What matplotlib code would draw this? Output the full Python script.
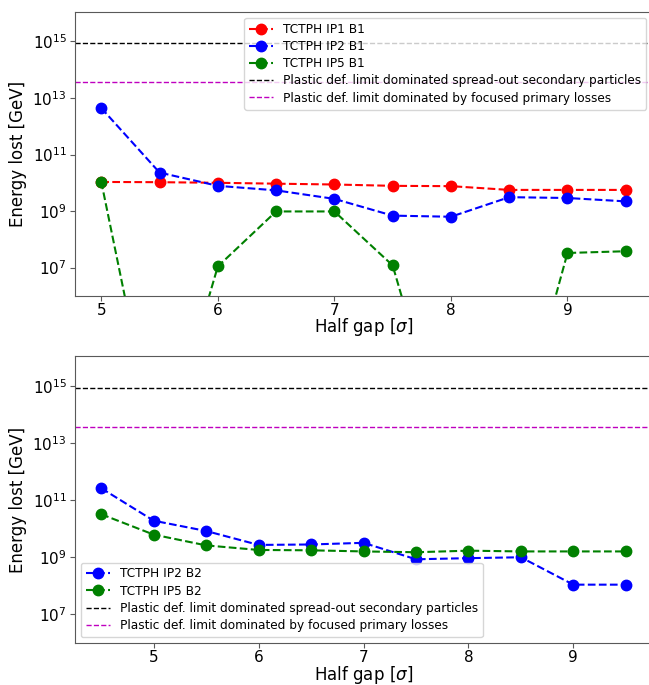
import numpy as np
import matplotlib
matplotlib.use("Agg")
import matplotlib.pyplot as plt

# Half-gap settings (in sigma)
gap_b1 = [5.0, 5.5, 6.0, 6.5, 7.0, 7.5, 8.0, 8.5, 9.0, 9.5]
gap_b2 = [4.5, 5.0, 5.5, 6.0, 6.5, 7.0, 7.5, 8.0, 8.5, 9.0, 9.5]

# Energy deposited on the TCTPH collimators [GeV]
ip1_b1 = [1.07e10, 1.05e10, 1.0e10, 9.3e9, 8.7e9, 7.8e9, 7.6e9, 5.6e9, 5.6e9, 5.6e9]
ip2_b1 = [4.4e12, 2.3e10, 7.8e9, 5.4e9, 2.7e9, 6.9e8, 6.3e8, 3.1e9, 2.9e9, 2.2e9]
ip5_b1 = [1.1e10, 1.0, 1.1e7, 9.7e8, 9.7e8, 1.2e7, 1.0, 1.0, 3.3e7, 3.8e7]

ip2_b2 = [2.6e11, 1.9e10, 8.3e9, 2.7e9, 2.8e9, 3.2e9, 8.5e8, 9.3e8, 1.0e9, 1.1e8, 1.1e8]
ip5_b2 = [3.2e10, 6.2e9, 2.6e9, 1.8e9, 1.75e9, 1.6e9, 1.5e9, 1.7e9, 1.6e9, 1.6e9, 1.6e9]

# Plastic deformation limits [GeV]
limit_secondary = 8.5e14
limit_primary = 3.7e13

TICK_FS = 11
LABEL_FS = 12
LEG_FS = 8.7
MS = 7.5

fig = plt.figure(figsize=(6.49, 6.85), dpi=100)
ax1 = fig.add_axes([0.1156, 0.568, 0.889, 0.4146])
ax2 = fig.add_axes([0.1156, 0.0613, 0.889, 0.419])


def style_axis(ax):
    ax.set_yscale("log")
    ax.set_ylim(1e6, 1.1e16)
    ax.set_yticks([1e7, 1e9, 1e11, 1e13, 1e15])
    ax.yaxis.set_minor_locator(matplotlib.ticker.NullLocator())
    ax.tick_params(labelsize=TICK_FS, color="0.35", pad=2.5)
    ax.tick_params(axis="x", pad=1.5)
    for s in ax.spines.values():
        s.set_color("0.35")
    ax.set_xlabel(r"Half gap [$\sigma$]", fontsize=LABEL_FS, labelpad=-1)
    ax.set_ylabel("Energy lost [GeV]", fontsize=LABEL_FS)


# Beam 1
ax1.plot(gap_b1, ip1_b1, "o--", color="red", ms=MS, label="TCTPH IP1 B1")
ax1.plot(gap_b1, ip2_b1, "o--", color="blue", ms=MS, label="TCTPH IP2 B1")
ax1.plot(gap_b1, ip5_b1, "o--", color="green", ms=MS, label="TCTPH IP5 B1")
ax1.axhline(limit_secondary, color="black", ls="--", lw=1.0,
            label="Plastic def. limit dominated spread-out secondary particles")
ax1.axhline(limit_primary, color="m", ls="--", lw=1.0,
            label="Plastic def. limit dominated by focused primary losses")
style_axis(ax1)
ax1.set_xlim(4.775, 9.725)
ax1.set_xticks([5, 6, 7, 8, 9])
ax1.legend(loc="upper right", fontsize=LEG_FS, labelspacing=0.35)

# Beam 2
ax2.plot(gap_b2, ip2_b2, "o--", color="blue", ms=MS, label="TCTPH IP2 B2")
ax2.plot(gap_b2, ip5_b2, "o--", color="green", ms=MS, label="TCTPH IP5 B2")
ax2.axhline(limit_secondary, color="black", ls="--", lw=1.0,
            label="Plastic def. limit dominated spread-out secondary particles")
ax2.axhline(limit_primary, color="m", ls="--", lw=1.0,
            label="Plastic def. limit dominated by focused primary losses")
style_axis(ax2)
ax2.set_xlim(4.25, 9.75)
ax2.set_xticks([5, 6, 7, 8, 9])
ax2.legend(loc="lower left", fontsize=LEG_FS, labelspacing=0.35)

fig.savefig("out.png", dpi=100)
